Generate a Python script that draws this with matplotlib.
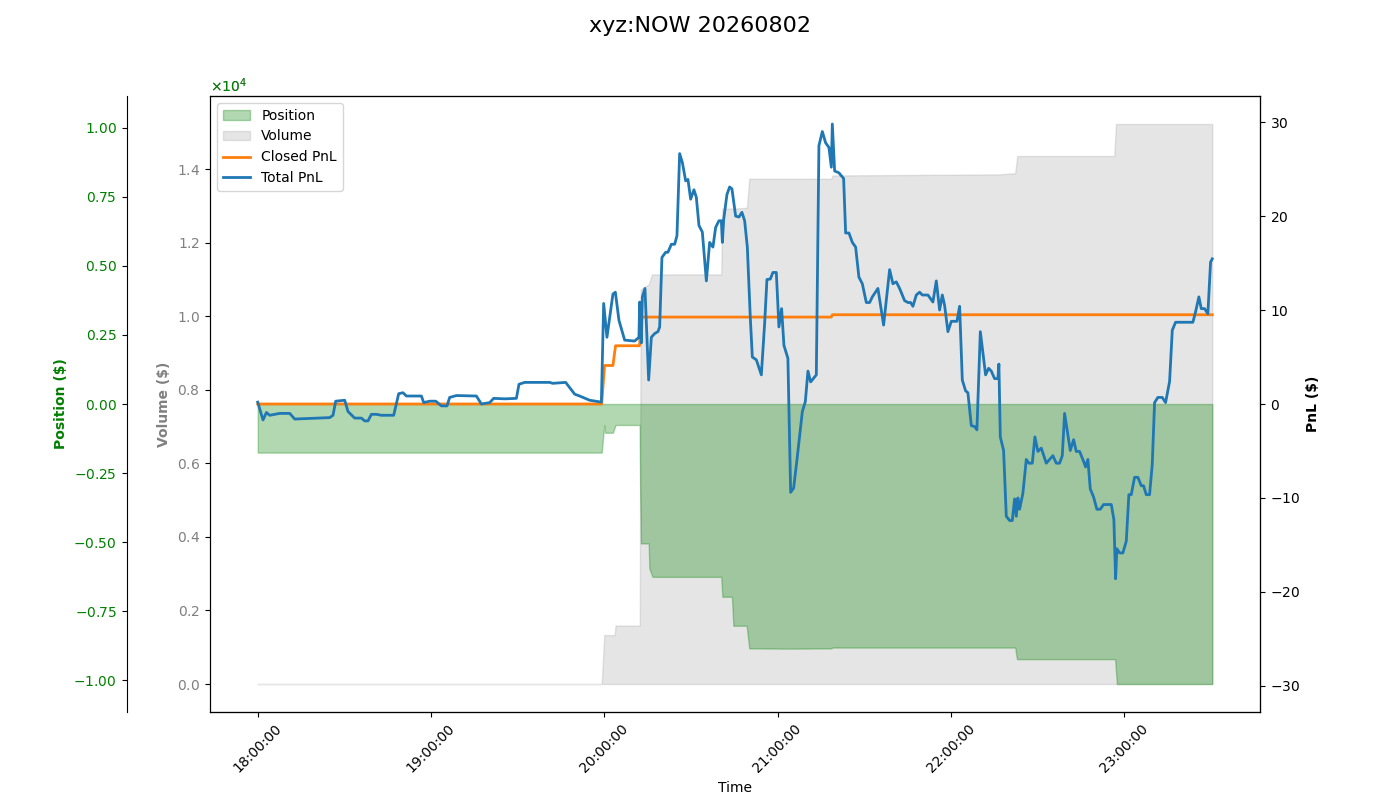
import pandas as pd
import matplotlib
matplotlib.use("Agg")
import matplotlib.pyplot as plt
import matplotlib.dates as mdates

plt.rcParams["axes.formatter.use_mathtext"] = True

title = "xyz:NOW 20260802"
start = pd.Timestamp("2026-08-02 18:00:00")

# total pnl, sampled at minutes after 18:00
pnl_minutes = [
    0, 1.83, 3.01, 4.15, 7.62, 11.08, 12.81, 24.93, 26.07, 27.0, 30.12, 31.26,
    33.58, 35.9, 37.04, 38.19, 39.36, 41.1, 42.83, 47.08, 48.82, 50.3, 51.48,
    56.67, 57.47, 59.55, 61.63, 63.6, 65.54, 66.47, 68.79, 75.72, 77.45, 80.32,
    81.71, 85.52, 89.56, 90.47, 92.44, 101.1, 102.13, 106.63, 109.75, 111.48,
    112.62, 114.94, 119.0, 119.79, 120.93, 123.0, 123.84, 125.09, 127.06,
    130.52, 132.01, 132.26, 132.84, 133.19, 134.09, 135.37, 136.3, 137.45,
    138.59, 139.18, 139.97, 141.26, 142.05, 143.23, 144.37, 145.17, 146.1,
    147.04, 148.18, 148.98, 149.91, 151.05, 151.88, 152.79, 153.96, 155.35,
    156.49, 157.63, 158.57, 159.71, 160.54, 160.89, 161.34, 162.48, 163.42,
    164.21, 165.49, 166.63, 167.67, 168.61, 169.54, 170.58, 171.27, 172.66,
    174.39, 175.53, 176.33, 177.5, 178.4, 179.58, 180.48, 181.41, 182.21,
    183.59, 184.54, 185.57, 186.72, 188.59, 189.62, 190.53, 191.46, 193.43,
    194.33, 195.51, 196.65, 197.8, 198.63, 198.97, 199.77, 201.26, 202.88,
    203.58, 204.72, 205.9, 207.04, 208.18, 209.36, 210.74, 211.89, 212.82,
    214.76, 216.73, 218.81, 219.95, 221.13, 222.27, 224.0, 225.15, 226.08,
    226.88, 228.05, 229.2, 230.13, 232.07, 233.8, 234.98, 236.12, 237.06,
    237.85, 239.0, 240.17, 242.11, 243.05, 243.98, 245.12, 245.92, 247.1,
    248.24, 249.04, 250.22, 252.05, 253.09, 254.02, 255.16, 256.31, 256.65,
    257.14, 258.28, 259.21, 260.36, 261.29, 262.09, 262.68, 263.23, 263.82,
    264.96, 266.14, 267.04, 268.22, 269.12, 270.15, 271.33, 273.06, 275.35,
    276.52, 277.67, 278.6, 279.4, 281.37, 282.52, 283.45, 284.59, 285.98,
    286.67, 287.47, 288.3, 289.44, 290.58, 291.76, 292.9, 295.57, 296.47,
    297.06, 297.51, 298.44, 299.58, 300.76, 301.66, 302.49, 303.63, 304.78,
    305.95, 306.75, 307.68, 308.83, 309.76, 310.56, 311.7, 313.22, 314.37,
    315.76, 316.69, 317.83, 323.82, 324.75, 325.9, 326.73, 327.87, 329.01,
    329.95, 330.54,
]
total_pnl = [
    0.2, -1.7, -0.9, -1.2, -1.0, -1.0, -1.6, -1.45, -1.2, 0.3, 0.4, -0.8,
    -1.5, -1.5, -1.8, -1.8, -1.1, -1.1, -1.2, -1.2, 1.1, 1.2, 0.85,
    0.85, 0.15, 0.3, 0.3, -0.2, -0.2, 0.7, 0.9, 0.85, 0.0, 0.15,
    0.6, 0.55, 0.6, 2.1, 2.3, 2.3, 2.2, 2.3, 1.05, 0.85,
    0.7, 0.4, 0.2, 10.7, 7.1, 11.7, 11.9, 8.9, 6.8,
    6.7, 7.1, 10.85, 6.5, 11.4, 12.3, 2.55, 7.1, 7.5,
    7.7, 8.2, 15.6, 16.15, 16.15, 17.0, 17.0, 17.9, 26.65,
    25.7, 23.75, 23.9, 21.8, 22.8, 22.0, 19.0, 18.3, 13.1,
    17.2, 16.7, 18.8, 19.5, 19.5, 17.2, 19.6, 22.3, 23.1,
    22.9, 20.0, 19.9, 20.4, 19.5, 16.7, 9.1, 5.0, 4.7,
    3.1, 8.55, 13.25, 13.3, 14.0, 14.0, 8.2, 10.15, 6.25,
    4.85, -9.4, -8.95, -5.95, -0.8, 0.25, 3.5, 2.35, 3.1,
    27.5, 29.0, 27.8, 27.3, 25.2, 29.8, 24.8, 24.6, 24.0,
    18.2, 18.2, 17.2, 16.7, 13.5, 12.8, 10.8, 10.8, 11.4,
    12.3, 8.4, 14.3, 12.8, 13.0, 12.3, 11.0, 10.8, 10.8,
    10.4, 11.6, 11.9, 11.6, 11.6, 10.85, 13.1, 10.0, 11.6,
    10.5, 7.7, 8.8, 8.8, 10.4, 2.55, 1.4, 1.2, -2.3,
    -2.4, -2.75, 7.7, 3.1, 3.8, 3.5, 2.7, 2.7, 4.25,
    -3.5, -4.95, -11.95, -12.4, -12.4, -10.1, -11.95, -10.0, -11.2,
    -9.5, -5.9, -6.3, -6.3, -3.5, -5.05, -4.7, -6.3, -5.5,
    -6.3, -6.3, -5.5, -1.0, -4.95, -3.8, -5.05, -5.05, -6.1,
    -6.7, -5.9, -9.05, -9.9, -11.2, -11.2, -10.7, -10.7, -12.3,
    -18.6, -15.4, -15.85, -15.85, -14.6, -9.65, -9.65, -7.8, -7.8,
    -8.7, -8.7, -9.65, -9.65, -6.4, 0.15, 0.7, 0.7, 0.15,
    2.4, 7.85, 8.7, 8.7, 9.8, 11.4, 10.15, 10.15, 9.6,
    15.1, 15.45,
]

closed_minutes = [0, 119.1, 120.1, 123.0, 123.9, 132.2, 132.8, 198.6, 199.0, 330.54]
closed_pnl = [0, 0, 4.1, 4.1, 6.2, 6.2, 9.25, 9.25, 9.5, 9.5]

pos_minutes = [0, 119.1, 120.0, 120.3, 123.0, 123.9, 132.26, 132.4, 132.7,
               135.4, 135.6, 136.7, 160.5, 160.9, 164.2, 164.7, 169.3, 170.2,
               184.0, 198.6, 199.0, 262.3, 262.9, 296.9, 297.5, 330.54]
position = [-1760, -1760, -760, -1040, -1040, -760, -760, -2870, -5050,
            -5050, -5950, -6260, -6260, -6980, -6980, -8030, -8030, -8850,
            -8860, -8850, -8820, -8820, -9240, -9240, -10140, -10140]

vol_minutes = [0, 119.1, 120.0, 123.6, 123.9, 132.3, 132.6, 135.4, 136.5,
               160.5, 160.9, 164.2, 164.7, 169.4, 170.2, 198.6, 199.0, 256.6,
               262.3, 263.0, 296.6, 297.2, 330.54]
volume = [0, 0, 1330, 1330, 1590, 1590, 10730, 10870, 11140,
          11140, 12930, 12930, 12930, 12950, 13740, 13740, 13830, 13860,
          13890, 14360, 14360, 15230, 15230]


def to_times(minutes):
    return (start + pd.to_timedelta(minutes, unit="min")).values


fig, ax_vol = plt.subplots(figsize=(14, 8), dpi=100)
fig.subplots_adjust(left=0.15, right=0.9, top=0.88, bottom=0.11)

# volume on the inner left axis
vol_fill = ax_vol.fill_between(to_times(vol_minutes), 0, volume, color="gray",
                               alpha=0.2, label="Volume")
ax_vol.set_ylabel("Volume ($)", color="gray", fontweight="bold")
ax_vol.tick_params(axis="y", labelcolor="gray")
ax_vol.ticklabel_format(axis="y", style="sci", scilimits=(0, 0), useMathText=True)

# position on an outer left axis
ax_pos = ax_vol.twinx()
ax_pos.yaxis.tick_left()
ax_pos.yaxis.set_label_position("left")
ax_pos.yaxis.set_offset_position("left")
ax_pos.spines["left"].set_position(("outward", 60))
ax_pos.spines["left"].set_visible(True)
pos_fill = ax_pos.fill_between(to_times(pos_minutes), 0, position, color="green",
                               alpha=0.3, label="Position")
pos_lim = max(abs(p) for p in position) * 1.1
ax_pos.set_ylim(-pos_lim, pos_lim)
ax_pos.set_ylabel("Position ($)", color="green", fontweight="bold")
ax_pos.tick_params(axis="y", labelcolor="green")
ax_pos.ticklabel_format(axis="y", style="sci", scilimits=(0, 0), useMathText=True)

# pnl on the right
ax_pnl = ax_vol.twinx()
l_closed, = ax_pnl.plot(to_times(closed_minutes), closed_pnl, color="tab:orange",
                        linewidth=2, label="Closed PnL")
l_total, = ax_pnl.plot(to_times(pnl_minutes), total_pnl, color="tab:blue",
                       linewidth=2, label="Total PnL")
pnl_lim = max(abs(v) for v in total_pnl + closed_pnl) * 1.1
ax_pnl.set_ylim(-pnl_lim, pnl_lim)
ax_pnl.set_ylabel("PnL ($)", fontweight="bold")

ax_vol.xaxis.set_major_locator(mdates.HourLocator())
ax_vol.xaxis.set_major_formatter(mdates.DateFormatter("%H:%M:%S"))
ax_vol.tick_params(axis="x", rotation=45)
ax_vol.set_xlabel("Time")

ax_pnl.legend([pos_fill, vol_fill, l_closed, l_total],
              ["Position", "Volume", "Closed PnL", "Total PnL"], loc="upper left")

fig.suptitle(title, fontsize=16)
fig.savefig("out.png")
